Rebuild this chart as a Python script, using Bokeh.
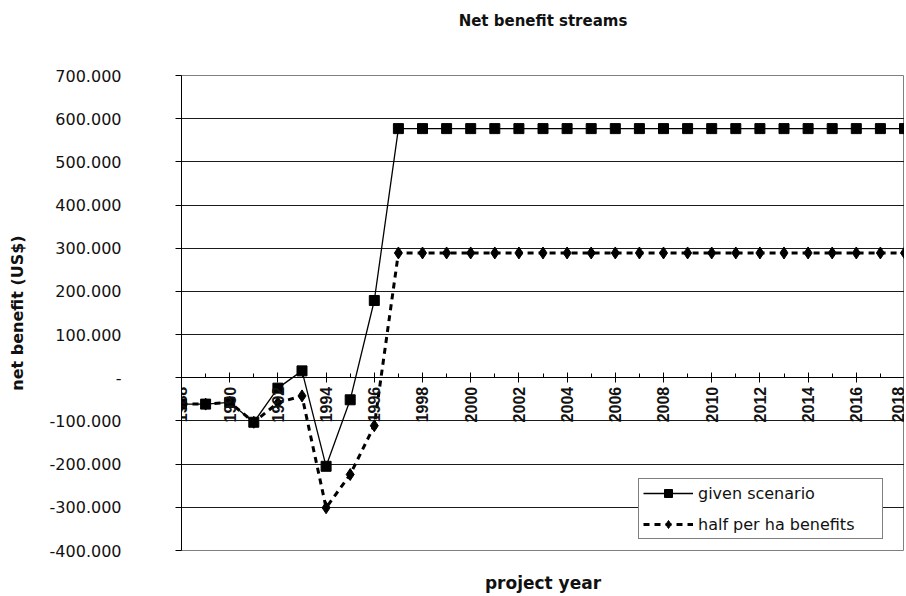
import math
from bokeh.plotting import figure
from bokeh.models import FixedTicker, Legend, LegendItem, ColumnDataSource, LinearAxis
from bokeh.embed import file_html
from bokeh.resources import INLINE

# ---- data ----
years = list(range(1988, 2019))
given_scenario = [-61, -61, -57, -103, -24, 16, -205, -51, 179] + [577] * 22
half_benefits = [-61, -61, -57, -103, -58, -42, -301, -224, -111] + [289] * 22

y_ticks = [700, 600, 500, 400, 300, 200, 100, 0, -100, -200, -300, -400]
y_tick_labels = ["700.000", "600.000", "500.000", "400.000", "300.000", "200.000",
                 "100.000", "-", "-100.000", "-200.000", "-300.000", "-400.000"]
x_major = list(range(1988, 2019, 2))
x_major_labels = [str(y) for y in x_major]

title_text = "Net benefit streams"
x_title = "project year"
y_title = "net benefit (US$)"
series_names = ["given scenario", "half per ha benefits"]

src = ColumnDataSource(dict(year=years, given=given_scenario, half=half_benefits))

p = figure(width=904, height=595, output_backend="svg", toolbar_location=None,
           x_range=(1988, 2018), y_range=(-400, 700),
           min_border_left=181, min_border_right=0, min_border_top=75, min_border_bottom=38)
p.background_fill_color = "white"
p.border_fill_color = "white"
p.outline_line_color = "#808080"
p.outline_line_width = 1

# grid
p.xgrid.visible = False
p.ygrid.ticker = FixedTicker(ticks=[t for t in y_ticks if -400 < t < 700])
p.ygrid.grid_line_color = "#1a1a1a"
p.ygrid.grid_line_width = 1

# y axis
p.yaxis.ticker = FixedTicker(ticks=y_ticks)
p.yaxis.major_label_overrides = {t: l for t, l in zip(y_ticks, y_tick_labels)}
p.yaxis.major_label_text_font = "DejaVu Sans"
p.yaxis.major_label_text_font_size = "16px"
p.yaxis.major_label_text_color = "#111111"
p.yaxis.major_tick_out = 6
p.yaxis.major_tick_in = 0
p.yaxis.minor_tick_out = 0
p.yaxis.minor_tick_in = 0
p.yaxis.major_label_standoff = 54
p.yaxis.axis_line_color = "black"
p.yaxis.major_tick_line_color = "black"
p.yaxis.axis_label = y_title
p.yaxis.axis_label_text_font = "DejaVu Sans"
p.yaxis.axis_label_text_font_style = "bold"
p.yaxis.axis_label_text_font_size = "16px"
p.yaxis.axis_label_text_color = "#111111"
p.yaxis.axis_label_standoff = 20

# x axis at y = 0
p.xaxis.fixed_location = 0
p.xaxis.ticker = FixedTicker(ticks=x_major, minor_ticks=years)
p.xaxis.major_label_overrides = {t: l for t, l in zip(x_major, x_major_labels)}
p.xaxis.major_label_orientation = math.pi / 2
p.xaxis.major_label_text_font = "Liberation Sans"
p.xaxis.major_label_text_font_style = "bold"
p.xaxis.major_label_text_font_size = "16px"
p.xaxis.major_label_text_color = "#111111"
p.xaxis.major_tick_in = 5
p.xaxis.major_tick_out = 5
p.xaxis.minor_tick_in = 4
p.xaxis.minor_tick_out = 0
p.xaxis.major_label_standoff = 4
p.xaxis.axis_line_color = "black"


def label_axis(text, size, standoff):
    ax = LinearAxis(ticker=FixedTicker(ticks=[]), axis_line_color=None,
                    major_tick_in=0, major_tick_out=0, minor_tick_in=0, minor_tick_out=0,
                    major_label_standoff=0, major_label_text_font_size="0px")
    ax.axis_label = text
    ax.axis_label_text_font = "DejaVu Sans"
    ax.axis_label_text_font_style = "bold"
    ax.axis_label_text_font_size = size
    ax.axis_label_text_color = "#111111"
    ax.axis_label_standoff = standoff
    return ax


p.add_layout(label_axis(title_text, "15px", 46), "above")
p.add_layout(label_axis(x_title, "17px", 22), "below")

# series
l1 = p.line("year", "given", source=src, line_color="black", line_width=1.3)
s1 = p.scatter("year", "given", source=src, marker="square", size=10,
               fill_color="black", line_color="black")
l2 = p.line("year", "half", source=src, line_color="black", line_width=3, line_dash="6 5")
s2 = p.scatter("year", "half", source=src, marker="diamond", size=12,
               fill_color="black", line_color="black")

legend = Legend(items=[LegendItem(label=series_names[0], renderers=[l1, s1]),
                       LegendItem(label=series_names[1], renderers=[l2, s2])],
                location=(457, 11))
legend.border_line_color = "black"
legend.border_line_width = 1
legend.background_fill_color = "white"
legend.background_fill_alpha = 1
legend.label_text_font = "DejaVu Sans"
legend.label_text_font_size = "16px"
legend.label_text_color = "#111111"
legend.glyph_width = 50
legend.glyph_height = 20
legend.label_height = 20
legend.label_width = 180
legend.label_standoff = 5
legend.padding = 4
legend.spacing = 11
legend.margin = 0
p.add_layout(legend)

open("out.html", "w").write(file_html(p, INLINE))
